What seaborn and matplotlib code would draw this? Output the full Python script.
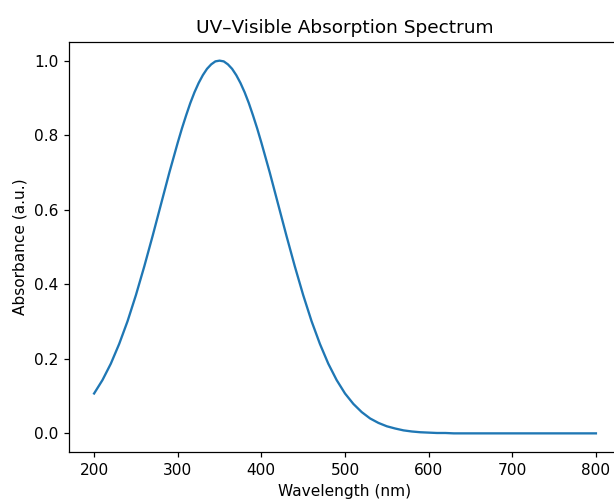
import seaborn as sns
import pandas as pd
import matplotlib.pyplot as plt

# 读图得到的吸收光谱数据点（峰附近每5 nm，其它每10 nm）
wavelength = [200, 210, 220, 230, 240, 250, 260, 270, 280, 290,
              300, 305, 310, 315, 320, 325, 330, 335, 340, 345,
              350, 355, 360, 365, 370, 375, 380, 385, 390, 395,
              400, 410, 420, 430, 440, 450, 460, 470, 480, 490,
              500, 510, 520, 530, 540, 550, 560, 570, 580, 590,
              600, 610, 620, 630, 640, 650, 660, 670, 680, 690,
              700, 710, 720, 730, 740, 750, 760, 770, 780, 790,
              800]
absorbance = [0.107, 0.143, 0.187, 0.240, 0.301, 0.371, 0.448, 0.530, 0.615, 0.700,
              0.780, 0.818, 0.853, 0.886, 0.915, 0.940, 0.961, 0.978, 0.990, 0.998,
              1.000, 0.998, 0.990, 0.978, 0.961, 0.940, 0.915, 0.886, 0.853, 0.818,
              0.780, 0.700, 0.615, 0.530, 0.448, 0.371, 0.301, 0.240, 0.187, 0.143,
              0.107, 0.079, 0.057, 0.040, 0.028, 0.019, 0.013, 0.008, 0.005, 0.003,
              0.002, 0.001, 0.001, 0.000, 0.000, 0.000, 0.000, 0.000, 0.000, 0.000,
              0.000, 0.000, 0.000, 0.000, 0.000, 0.000, 0.000, 0.000, 0.000, 0.000,
              0.000]

title = "UV\u2013Visible Absorption Spectrum"
xlabel = "Wavelength (nm)"
ylabel = "Absorbance (a.u.)"

df = pd.DataFrame({"wl": wavelength, "abs": absorbance})

s = 1.11  # 原图大约放大了1.11倍
plt.rcParams.update({
    "font.size": 10 * s,
    "axes.titlesize": 12 * s,
    "axes.titlepad": 6 * s,
    "axes.labelpad": 4 * s,
    "axes.linewidth": 0.8 * s,
    "xtick.major.size": 3.5 * s,
    "ytick.major.size": 3.5 * s,
    "xtick.major.width": 0.8 * s,
    "ytick.major.width": 0.8 * s,
    "xtick.major.pad": 3.5 * s,
    "ytick.major.pad": 3.5 * s,
})

fig = plt.figure(figsize=(6.14, 5.0), dpi=100)
ax = fig.add_axes([0.1124, 0.096, 0.899, 0.82])
sns.lineplot(data=df, x="wl", y="abs", ax=ax, color="#1f77b4", linewidth=1.5 * s)
ax.set_title(title)
ax.set_xlabel(xlabel)
ax.set_ylabel(ylabel)
ax.set_xticks([200, 300, 400, 500, 600, 700, 800])
ax.set_yticks([0.0, 0.2, 0.4, 0.6, 0.8, 1.0])

fig.savefig("out.png", dpi=100)
